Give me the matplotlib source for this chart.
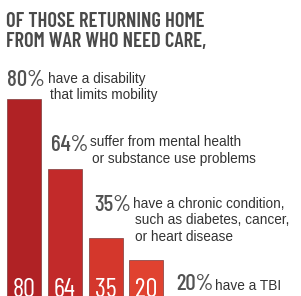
import numpy as np
import matplotlib
matplotlib.use('Agg')
from matplotlib import pyplot as plt
from matplotlib import rcParams

rcParams['font.family'] = ['Liberation Sans', 'DejaVu Sans']

#%% data
pct = [80, 64, 35, 20]
labels = ['have a disability\nthat limits mobility',
          'suffer from mental health\nor substance use problems',
          'have a chronic condition,\nsuch as diabetes, cancer,\nor heart disease',
          'have a TBI']
title = ['OF THOSE RETURNING HOME', 'FROM WAR WHO NEED CARE,']
bar_colors = ['#b02225', '#c22a2a', '#d4372c', '#e04230']

# the infographic does not draw its bars in proportion: visual bar length
# (px above the baseline) for each value
knot_val = [0, 20, 35, 64, 80, 100]
knot_len = [0, 40, 62, 131, 201, 300]

cond = ['Barlow Condensed', 'Roboto Condensed', 'DejaVu Sans']
W, H = 301, 296

#%%
fig = plt.figure(figsize=(W/100, H/100), dpi=100)
fig.patch.set_facecolor('white')

# bars axes, baseline sits a few px below the figure edge
ax = fig.add_axes([0, -4/H, 1, 300/H])
ax.set_yscale('function', functions=(lambda v: np.interp(v, knot_val, knot_len),
                                     lambda p: np.interp(p, knot_len, knot_val)))
x = np.arange(len(pct))
ax.bar(x, pct, width=0.83, color=bar_colors, edgecolor='#7d3a3a', linewidth=0.5)
ax.set_ylim(0, 100)
ax.set_xlim(-0.588, -0.588 + W/40.8)
ax.axis('off')

for i, v in enumerate(pct):
    ax.annotate(str(v), (i, 0), xytext=(0, 2.2), textcoords='offset points',
                ha='center', va='baseline', color='white', fontsize=19,
                family=cond)

# title, two lines placed by baseline
for k, line in enumerate(title):
    fig.text(6/W, 1 - (27 + 20*k)/H, line, ha='left', va='baseline', fontsize=14.8,
             fontweight='semibold', family=cond, color='#4a4a4a')

# percentage + description blocks (x of %, baseline of %, x of text, baseline of first line)
pos = [(7, 86, 48, 83), (51, 151, 90, 146), (94, 211, 133, 208), (176, 290, 215, 290)]
for v, lab, (px, py, tx, ty) in zip(pct, labels, pos):
    fig.text(px/W, 1 - py/H, f'{v}%', ha='left', va='baseline', fontsize=16.5,
             fontweight='medium', family=cond, color='#525252')
    for k, line in enumerate(lab.split('\n')):
        fig.text((tx + (2 if k else 0))/W, 1 - (ty + 16.5*k)/H, line, ha='left',
                 va='baseline', fontsize=9.8, color='#333333')

fig.savefig('out.png', dpi=100)
